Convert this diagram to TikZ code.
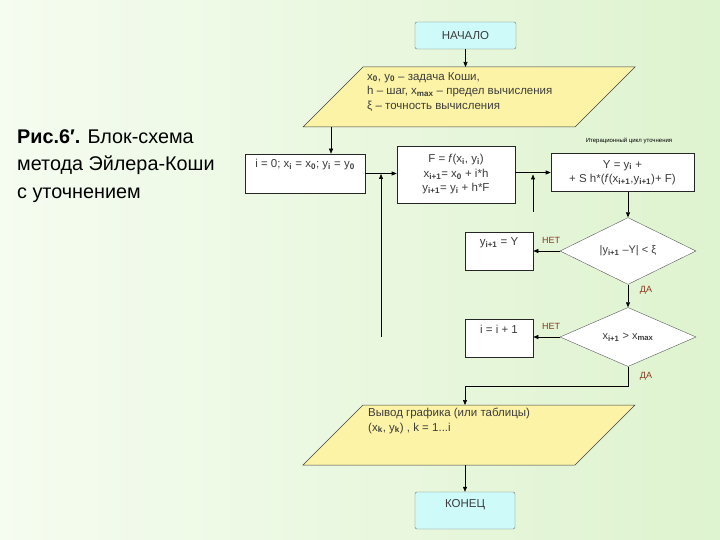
\documentclass[tikz,border=0pt]{standalone}
\usepackage{fontspec}
\setmainfont{Liberation Sans}
\usetikzlibrary{shapes.geometric,arrows.meta}
\definecolor{bgL}{RGB}{245,252,240}
\definecolor{bgR}{RGB}{222,243,207}
\definecolor{termfill}{RGB}{206,250,250}
\definecolor{parafill}{RGB}{252,243,166}
\definecolor{txt}{RGB}{60,60,60}
\definecolor{nocol}{RGB}{140,55,30}
\newcommand{\sbf}[1]{\textsubscript{\textbf{#1}}}
\begin{document}
\begin{tikzpicture}[x=1pt,y=-1pt,
  term/.style={draw=black!55, fill=termfill, rounded corners=2pt, minimum width=101pt, minimum height=27pt, inner sep=0pt, font=\fontsize{11.5}{13}\selectfont, text=txt},
  boxx/.style={draw=black!85, fill=white, inner sep=0pt, line width=0.6pt},
  dia/.style={diamond, draw=black!65, fill=white, inner sep=0pt, minimum width=136pt, font=\fontsize{11}{13}\selectfont, text=txt},
  para/.style={draw=black!75, fill=parafill, line width=0.5pt},
  btxt/.style={font=\fontsize{11.5}{14.5}\selectfont, text=txt, inner sep=0pt},
  arr/.style={-{Triangle[length=5pt,width=4pt]}, line width=0.6pt},
  notxt/.style={font=\fontsize{9}{10}\selectfont, text=nocol, inner sep=0pt}
]
\useasboundingbox (0,0) rectangle (720,540);
\shade[left color=bgL, right color=bgR] (0,0) rectangle (720,540);

% left caption
\node[anchor=north west, align=left, inner sep=0pt, font=\fontsize{19.8}{27.5}\selectfont] (cap) at (17,129)
  {\textbf{Рис.6′.} Блок-схема\\метода Эйлера-Коши\\с уточнением};

% start
\node[term] (start) at (465.5,35.5) {НАЧАЛО};

% input parallelogram
\draw[para] (363,67) -- (635,67) -- (575,127) -- (303,127) -- cycle;
\coordinate (p1top) at (465.5,67);
\coordinate (p1bot) at (331,127);
\node[btxt, anchor=north west, align=left] (p1text) at (367,72)
  {x\sbf{0}, y\sbf{0} – задача Коши,\\h – шаг, x\sbf{max} – предел вычисления\\ξ – точность вычисления};

% init
\node[boxx, minimum width=120pt, minimum height=39pt] (init) at (305,173.5) {};
\node[btxt, anchor=north] (initt) at ([yshift=-5pt]init.north) {i = 0; x\sbf{i} = x\sbf{0}; y\sbf{i} = y\sbf{0}};

% F box
\node[boxx, minimum width=118pt, minimum height=57pt] (F) at (456,174.5) {};
\node[btxt, align=center] (Ft) at (F.center) {F = \textit{f}(x\sbf{i}, y\sbf{i})\\x\sbf{i+1}= x\sbf{0} + i*h\\y\sbf{i+1}= y\sbf{i} + h*F};

% Y box
\node[boxx, minimum width=143pt, minimum height=38pt] (Y) at (622.5,172.5) {};
\node[btxt, align=center] (Yt) at (Y.center) {Y = y\sbf{i} +\\+ S h*(\textit{f}(x\sbf{i+1},y\sbf{i+1})+ F)};
\node[font=\fontsize{6}{7}\selectfont, inner sep=0pt] (iterlab) at (629,141) {Итерационный цикл уточнения};

% diamonds
\node[dia, minimum height=56pt] (d1) at (628,251) {|y\sbf{i+1} –Y| < ξ};
\node[dia, minimum height=58pt] (d2) at (628,337) {x\sbf{i+1} > x\sbf{max}};

% small boxes
\node[boxx, minimum width=68pt, minimum height=38pt] (yy) at (499,251) {};
\node[btxt, anchor=north] (yyt) at ([yshift=-6pt]yy.north) {y\sbf{i+1} = Y};
\node[boxx, minimum width=68pt, minimum height=38pt] (ii) at (499,338) {};
\node[btxt, anchor=north] (iit) at ([yshift=-6pt]ii.north) {i = i + 1};

% labels
\node[notxt] (no1) at (551,240) {НЕТ};
\node[notxt] (no2) at (551,326) {НЕТ};
\node[notxt] (yes1) at (646,290) {ДА};
\node[notxt] (yes2) at (646,376) {ДА};

% output parallelogram
\draw[para] (363,405) -- (635,405) -- (575,465) -- (303,465) -- cycle;
\coordinate (p2top) at (465,405);
\coordinate (p2bot) at (465,465);
\node[btxt, anchor=north west, align=left] (p2text) at (368,408)
  {Вывод графика (или таблицы)\\(x\sbf{k}, y\sbf{k}) , k = 1...i};

% end
\node[term, minimum width=100pt, minimum height=37pt] (stop) at (465,510.5) {};
\node[font=\fontsize{11.5}{13}\selectfont, text=txt, inner sep=0pt] (stopt) at (465,505) {КОНЕЦ};

% connectors
\draw[arr] (start.south) -- (p1top);
\draw[arr] (p1bot) -- (p1bot |- init.north);
\draw[arr] (init.east) -- (init.east -| F.west);
\draw[arr] (F.east |- Y.west) -- (Y.west);
\coordinate (j1) at (381,174);
\coordinate (fb1) at (381,337);
\coordinate (j2) at (533,174.5);
\coordinate (fb2) at (533,212);
\draw[arr] (fb1) -- (j1);
\draw[arr] (fb2) -- (j2);
\draw[arr] (Y.south -| d1.north) -- (d1.north);
\draw[arr] (d1.west) -- (yy.east);
\draw[arr] (d1.south) -- (d2.north);
\draw[arr] (d2.west) -- (d2.west -| ii.east);
\coordinate (c1) at (628,386);
\draw[arr] (d2.south) -- (c1) -- (c1 -| p2top) -- (p2top);
\draw[arr] (p2bot) -- (stop.north);
\end{tikzpicture}
\end{document}
